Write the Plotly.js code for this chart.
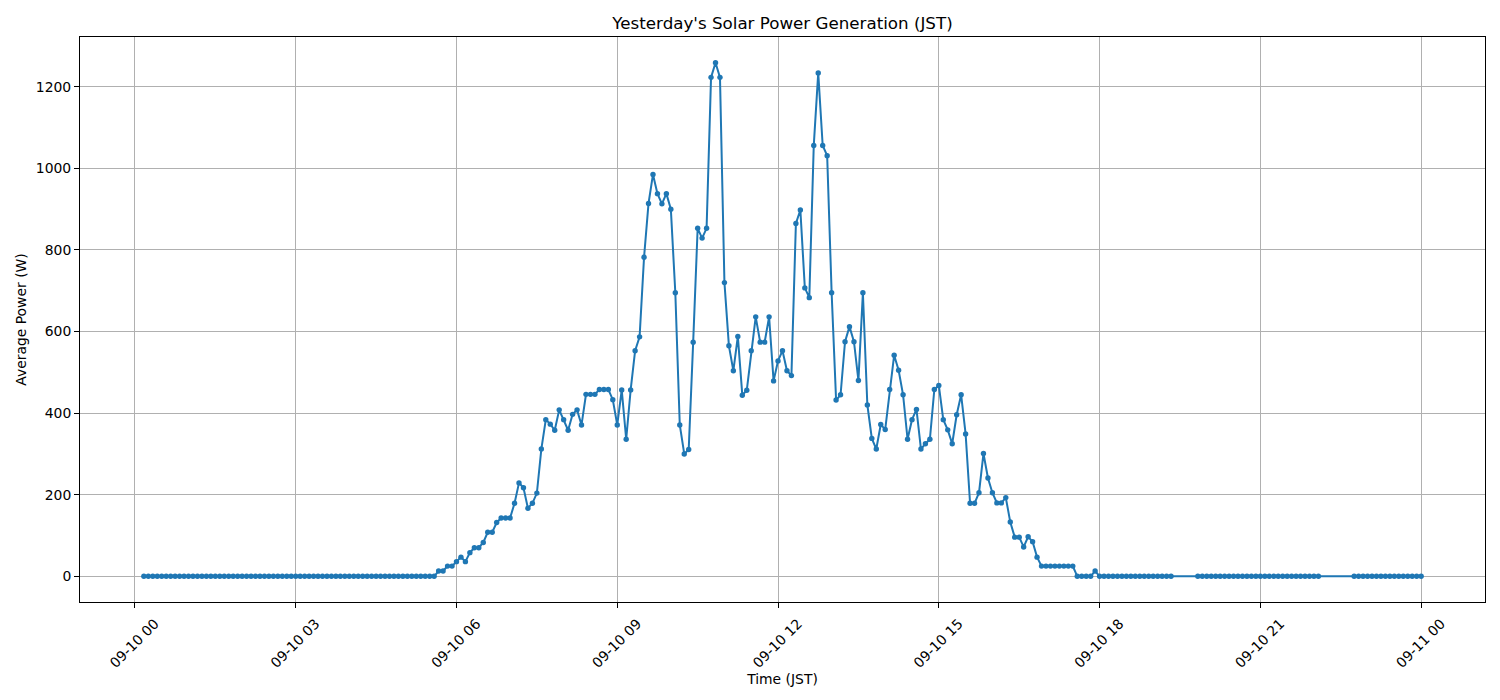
<!DOCTYPE html>
<html>
<head>
<meta charset="utf-8">
<script src="https://cdn.plot.ly/plotly-3.0.1.min.js"></script>
<style>
  html, body { margin: 0; padding: 0; background: #fff; }
  #chart { width: 1500px; height: 700px; }
</style>
</head>
<body>
<div id="chart"></div>
<script>
// 5-minute averages, first reading 09-10 00:10 JST, null = no reading
const firstReading = Date.UTC(2025, 8, 10, 0, 10);
const stepMinutes = 5;
const power = [
  0, 0, 0, 0, 0, 0, 0, 0, 0, 0,                       // 00:10 - 00:55
  0, 0, 0, 0, 0, 0, 0, 0, 0, 0, 0, 0,                 // 01
  0, 0, 0, 0, 0, 0, 0, 0, 0, 0, 0, 0,                 // 02
  0, 0, 0, 0, 0, 0, 0, 0, 0, 0, 0, 0,                 // 03
  0, 0, 0, 0, 0, 0, 0, 0, 0, 0, 0, 0,                 // 04
  0, 0, 0, 0, 0, 0, 0, 0, 13, 13, 25, 25,             // 05
  36, 47, 36, 58, 70, 70, 83, 108, 108, 132, 143, 143, // 06
  143, 179, 229, 217, 167, 179, 204, 312, 384, 373, 358, 408, // 07
  384, 358, 397, 408, 371, 446, 446, 446, 458, 458, 458, 433, // 08
  371, 457, 336, 457, 553, 587, 782, 914, 985, 938, 913, 938, // 09
  900, 695, 371, 300, 311, 574, 853, 829, 853, 1223, 1259, 1223, // 10
  720, 565, 504, 588, 444, 456, 553, 636, 574, 574, 636, 479, // 11
  528, 553, 504, 492, 865, 898, 707, 683, 1056, 1234, 1056, 1031, // 12
  695, 432, 445, 575, 612, 575, 480, 695, 420, 338, 312, 372, // 13
  360, 458, 542, 505, 445, 336, 384, 409, 312, 325, 336, 458, // 14
  468, 384, 359, 325, 396, 445, 349, 179, 179, 205, 301, 241, // 15
  205, 180, 180, 193, 133, 96, 96, 72, 97, 85, 47, 25,         // 16
  25, 25, 25, 25, 25, 25, 25, 0, 0, 0, 0, 13,                 // 17
  0, 0, 0, 0, 0, 0, 0, 0, 0, 0, 0, 0,                         // 18
  0, 0, 0, 0, 0, null, null, null, null, null, 0, 0,          // 19
  0, 0, 0, 0, 0, 0, 0, 0, 0, 0, 0, 0,                         // 20
  0, 0, 0, 0, 0, 0, 0, 0, 0, 0, 0, 0,                         // 21
  0, 0, null, null, null, null, null, null, null, 0, 0, 0,    // 22
  0, 0, 0, 0, 0, 0, 0, 0, 0, 0, 0, 0,                         // 23
  0                                                           // 09-11 00:00
];

function fmt(ms) {
  return new Date(ms).toISOString().slice(0, 19).replace("T", " ");
}

let times = power.map((_, i) => fmt(firstReading + i * stepMinutes * 60000));

// matplotlib style 5% padding on both axes
let tFirst = firstReading;
let tLast = firstReading + (power.length - 1) * stepMinutes * 60000;
let tPad = (tLast - tFirst) * 0.05;
let vals = power.filter(v => v !== null);
let vMin = Math.min(...vals), vMax = Math.max(...vals);
let vPad = (vMax - vMin) * 0.05;

let font = { family: "DejaVu Sans, sans-serif", size: 13.9, color: "#000" };

let trace = {
  x: times,
  y: power,
  type: "scatter",
  mode: "lines+markers",
  connectgaps: true,
  line: { color: "#1f77b4", width: 2 },
  marker: { color: "#1f77b4", size: 5.4 },
  hoverinfo: "skip",
};

let layout = {
  width: 1500,
  height: 700,
  paper_bgcolor: "#fff",
  plot_bgcolor: "#fff",
  font: font,
  showlegend: false,
  margin: { l: 80, r: 15, t: 37, b: 98 },
  title: {
    text: "Yesterday's Solar Power Generation (JST)",
    font: { family: font.family, size: 16.7, color: "#000" },
    x: 0.5,
    xref: "paper",
    y: 1 - 23 / 700,
    yref: "container",
    yanchor: "middle",
  },
  xaxis: {
    type: "date",
    range: [fmt(tFirst - tPad), fmt(tLast + tPad)],
    tickmode: "linear",
    tick0: "2025-09-10 00:00",
    dtick: 3 * 3600 * 1000,
    tickformat: "%m-%d %H",
    tickangle: -45,
    ticklabelshift: 20,
    ticklabelstandoff: 2,
    tickfont: font,
    ticks: "outside",
    ticklen: 5,
    tickcolor: "#000",
    showgrid: true,
    gridcolor: "#b0b0b0",
    gridwidth: 1,
    showline: true,
    mirror: true,
    linecolor: "#000",
    linewidth: 1,
    zeroline: false,
    title: { text: "Time (JST)", font: font, standoff: 4 },
  },
  yaxis: {
    range: [vMin - vPad, vMax + vPad],
    tickmode: "linear",
    tick0: 0,
    dtick: 200,
    tickfont: font,
    ticks: "outside",
    ticklen: 5,
    tickcolor: "#000",
    showgrid: true,
    gridcolor: "#b0b0b0",
    gridwidth: 1,
    showline: true,
    mirror: true,
    linecolor: "#000",
    linewidth: 1,
    zeroline: false,
    title: { text: "Average Power (W)", font: font, standoff: 5 },
  },
};

Plotly.newPlot("chart", [trace], layout, { displayModeBar: false, staticPlot: true });
</script>
</body>
</html>
